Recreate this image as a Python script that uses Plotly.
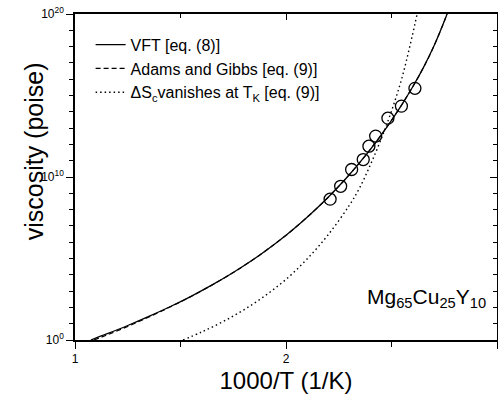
import plotly.graph_objects as go

# ---- data (x = 1000/T, y = log10 viscosity in poise) ----
vft_x = [1.075, 1.15, 1.25, 1.35, 1.45, 1.55, 1.65, 1.75, 1.85, 1.95, 2.00, 2.05, 2.10, 2.15,
         2.20, 2.25, 2.30, 2.35, 2.40, 2.45, 2.50, 2.55, 2.60, 2.65, 2.70, 2.75, 2.78]
vft_log = [0.0, 0.37, 0.89, 1.45, 2.04, 2.68, 3.38, 4.14, 4.98, 5.92, 6.42, 6.96, 7.53, 8.13,
           8.76, 9.43, 10.14, 10.90, 11.70, 12.56, 13.48, 14.46, 15.52, 16.68, 18.0, 19.55, 20.6]

ag_x = [1.09, 1.15, 1.25, 1.35, 1.45, 1.55, 1.65, 1.75, 1.85, 1.95, 2.00, 2.05, 2.10, 2.15,
        2.20, 2.25, 2.30, 2.35, 2.40, 2.45, 2.50, 2.55, 2.60, 2.65, 2.70, 2.75, 2.78]
ag_log = [0.0, 0.30, 0.83, 1.41, 2.02, 2.67, 3.38, 4.14, 4.98, 5.92, 6.42, 6.96, 7.53, 8.13,
          8.76, 9.43, 10.14, 10.90, 11.70, 12.56, 13.48, 14.46, 15.52, 16.68, 18.0, 19.55, 20.6]

sc_x = [1.512, 1.60, 1.70, 1.80, 1.90, 2.00, 2.10, 2.20, 2.30, 2.35, 2.40, 2.45, 2.50,
        2.55, 2.60, 2.625, 2.64]
sc_log = [0.0, 0.49, 1.12, 1.85, 2.71, 3.72, 4.97, 6.46, 8.26, 9.36, 10.75, 12.3, 14.05,
          16.1, 18.75, 20.2, 21.0]

exp_x = [2.209, 2.259, 2.311, 2.366, 2.393, 2.425, 2.483, 2.547, 2.611]
exp_log = [8.64, 9.43, 10.46, 11.07, 11.89, 12.51, 13.61, 14.35, 15.44]

x_ticks = [1, 2, 3]
x_tick_labels = ["1", "2", "3"]
y_tick_exps = [0, 10, 20]

names = ["VFT [eq. (8)]", "Adams and Gibbs [eq. (9)]",
         "ΔS<sub>c</sub>vanishes at T<sub>K</sub> [eq. (9)]"]
x_title = "1000/T (1/K)"
y_title = "viscosity (poise)"
label = "Mg<sub>65</sub>Cu<sub>25</sub>Y<sub>10</sub>"


def pw(v):
    return [10.0 ** e for e in v]


fig = go.Figure()
fig.add_trace(go.Scatter(x=ag_x, y=pw(ag_log), mode="lines", name=names[1], legendrank=2,
                         line=dict(color="black", width=1.2, dash="5px,3px", shape="spline")))
fig.add_trace(go.Scatter(x=vft_x, y=pw(vft_log), mode="lines", name=names[0], legendrank=1,
                         line=dict(color="black", width=1.3, shape="spline")))
fig.add_trace(go.Scatter(x=sc_x, y=pw(sc_log), mode="lines", name=names[2], legendrank=3,
                         line=dict(color="black", width=1.4, dash="1.5px,3px", shape="spline")))
fig.add_trace(go.Scatter(x=exp_x, y=pw(exp_log), mode="markers", showlegend=False,
                         marker=dict(symbol="circle-open", size=12, color="black",
                                     line=dict(width=1.3, color="black"))))

ytv = [10.0 ** e for e in y_tick_exps]
ytt = ["10<sup>%d</sup>" % e for e in y_tick_exps]
yminor = [10.0 ** k for k in range(1, 20) if k != 10]

fnt = "Liberation Sans, Arial, sans-serif"

fig.update_layout(
    width=498, height=401,
    margin=dict(l=75, r=1, t=14, b=61),
    paper_bgcolor="white", plot_bgcolor="white",
    font=dict(family=fnt, color="black"),
    legend=dict(x=0.037, y=0.958, xanchor="left", yanchor="top",
                bgcolor="rgba(0,0,0,0)", font=dict(size=16, family=fnt),
                traceorder="normal", itemwidth=30, tracegroupgap=0),
    xaxis=dict(range=[1, 3], tickvals=x_ticks, ticktext=x_tick_labels, automargin=False,
               ticks="outside", ticklen=7, tickwidth=1.3, tickcolor="black",
               showline=True, linecolor="black", linewidth=1.5,
               showgrid=False, zeroline=False,
               tickfont=dict(size=12),
               minor=dict(tickvals=[1.5, 2.5], ticks="outside", ticklen=5,
                          tickwidth=1.2, tickcolor="black", showgrid=False),
               title=dict(text=x_title, font=dict(size=24), standoff=7)),
    yaxis=dict(type="log", range=[0, 20], tickvals=ytv, ticktext=ytt, automargin=False,
               ticks="outside", ticklen=7, tickwidth=1.3, tickcolor="black",
               showline=True, linecolor="black", linewidth=1.5,
               showgrid=False, zeroline=False,
               tickfont=dict(size=12),
               minor=dict(tickvals=yminor, ticks="outside", ticklen=4,
                          tickwidth=1.1, tickcolor="black", showgrid=False)),
    xaxis2=dict(range=[1, 3], overlaying="x", side="top", automargin=False,
                tickvals=x_ticks, showticklabels=False,
                ticks="inside", ticklen=6, tickwidth=1.2, tickcolor="black",
                showline=True, linecolor="black", linewidth=1.5,
                showgrid=False, zeroline=False,
                minor=dict(tickvals=[1.5, 2.5], ticks="inside", ticklen=4,
                           tickwidth=1.1, tickcolor="black", showgrid=False)),
    yaxis2=dict(type="log", range=[0, 20], overlaying="y", side="right", automargin=False,
                tickvals=ytv, showticklabels=False,
                ticks="inside", ticklen=7, tickwidth=1.2, tickcolor="black",
                showline=True, linecolor="black", linewidth=1.5,
                showgrid=False, zeroline=False,
                minor=dict(tickvals=yminor, ticks="inside", ticklen=4,
                           tickwidth=1.1, tickcolor="black", showgrid=False)),
    annotations=[
        dict(text=label, xref="paper", yref="paper", x=0.978, y=0.13,
             xanchor="right", yanchor="middle", showarrow=False,
             font=dict(size=21, family=fnt)),
        dict(text=y_title, xref="paper", yref="paper", x=-0.097, y=0.579,
             xanchor="center", yanchor="middle", textangle=-90, showarrow=False,
             font=dict(size=25, family=fnt)),
    ],
)
# invisible helper trace so the mirrored top/right axes are drawn
fig.add_trace(go.Scatter(x=[1, 3], y=[1, 1e20], xaxis="x2", yaxis="y2", mode="markers",
                         marker=dict(opacity=0), showlegend=False, hoverinfo="skip"))

fig.write_html("out.html", config={"displayModeBar": False},
               post_script="document.body.style.margin='0';document.body.style.overflow='hidden';")
